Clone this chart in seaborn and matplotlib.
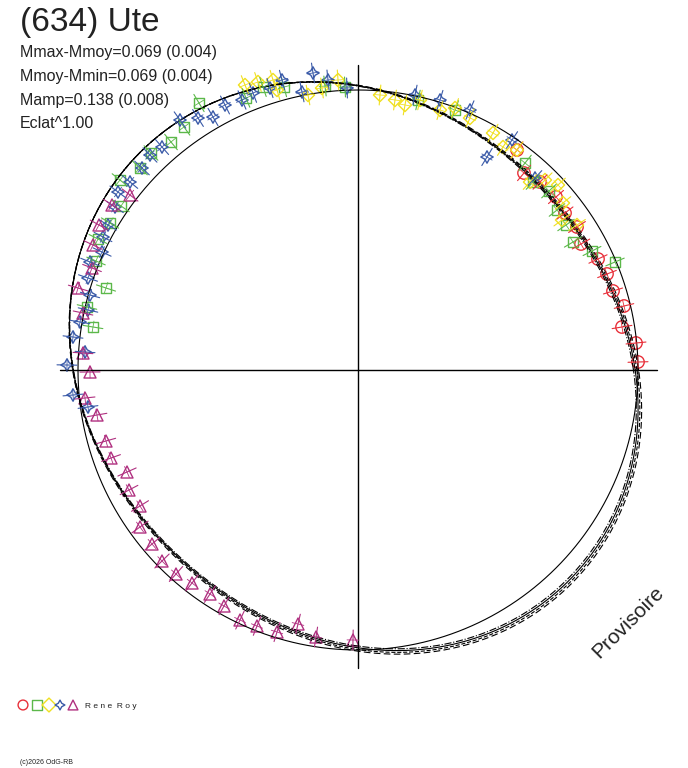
import numpy as np
import pandas as pd
import matplotlib
matplotlib.use("Agg")
import matplotlib.pyplot as plt
import seaborn as sns

# Points in the plot's own (x, y) frame, centre of the polar diagram at (0, 0)
red_x = [159, 166, 182, 198, 207, 219, 223, 240, 249, 255, 266, 264, 278, 280]
red_y = [220, 197, 188, 173, 157, 143, 126, 111, 96, 79, 64, 43, 27, 8]

green_x = [167, 175, 191, 199, 208, 215, 234, 257, -159, -174, -187, -207, -218, -238,
           -112, -95, -74, -33, -13, -237, -248, -260, -262, -252, -271, -265, 60, 97]
green_y = [207, 188, 179, 160, 145, 128, 119, 108, 267, 243, 228, 217, 202, 190,
           272, 283, 283, 284, 283, 164, 147, 131, 109, 82, 63, 43, 270, 260]

yellow_x = [-113, -100, -81, -50, -36, -20, -85, 22, 37, 47, 62, 82, 97, 112, 135, 145,
            159, 172, 187, 200, 205, 204, 219]
yellow_y = [285, 288, 280, 275, 282, 290, 290, 275, 270, 265, 270, 260, 262, 252, 237, 223,
            220, 188, 190, 185, 167, 150, 145]

blue_x = [-76, -45, -30, -56, -11, -88, -105, -116, -133, -145, -160, -178, -196, -208, -216,
          -228, -240, -243, -250, -255, -256, -268, -270, -268, -270, -278, -285, -273, -291,
          -285, -270, 129, 154, 177, 57, 82, 112]
blue_y = [290, 297, 290, 278, 282, 282, 277, 270, 265, 253, 252, 250, 223, 215, 202,
          188, 178, 163, 145, 133, 118, 108, 92, 75, 60, 48, 33, 18, 5,
          -25, -37, 213, 230, 192, 275, 270, 260]

mag_x = [-228, -246, -259, -265, -266, -280, -275, -275, -268, -273, -261, -252, -247, -231,
         -229, -218, -218, -206, -196, -182, -166, -148, -134, -118, -101, -81, -60, -42, -5]
mag_y = [175, 165, 145, 125, 102, 82, 57, 17, -2, -28, -45, -71, -88, -102,
         -120, -136, -157, -174, -191, -204, -213, -224, -236, -250, -256, -262, -254, -267, -270]

# Fourier model of the fitted curve (radius vs phase angle)
fit_r0 = 281
fit_sin2 = -22
fit_h1_amp = 5
fit_h1_phase = 140
circle_r = 280
fit_offsets = [0, 2, -2, 4]
fit_styles = ["-", "--", "-.", (0, (6, 3))]

series = [
    ("red", red_x, red_y, "o", "#e8303a", 80),
    ("green", green_x, green_y, "s", "#5cb84a", 55),
    ("yellow", yellow_x, yellow_y, "D", "#f0e020", 45),
    ("blue", blue_x, blue_y, (4, 1, 0), "#3a5aa8", 80),
    ("magenta", mag_x, mag_y, "^", "#b03080", 75),
]

sns.set_style("white")
plt.rcParams["font.family"] = ["Liberation Sans", "DejaVu Sans"]

fig = plt.figure(figsize=(6.88, 7.68), dpi=100)
ax = fig.add_axes([0, 0, 1, 1])
ax.set_xlim(-358, 330)
ax.set_ylim(-398, 370)
ax.axis("off")

# axes cross
ax.plot([-298, 299], [0, 0], color="black", lw=1)
ax.plot([0, 0], [305, -298], color="black", lw=1)

# reference circle and fits
th = np.linspace(0, 2 * np.pi, 721)
ax.plot(circle_r * np.cos(th), circle_r * np.sin(th), color="black", lw=0.8)
base = fit_r0 + fit_sin2 * np.sin(2 * th) + fit_h1_amp * np.cos(th - np.radians(fit_h1_phase))
for off, ls in zip(fit_offsets, fit_styles):
    r = base + off * (0.5 + 0.5 * np.cos(th + np.pi / 4))
    ax.plot(r * np.cos(th), r * np.sin(th), color="black", lw=0.8, ls=ls)

# data points with error ticks
for name, xs, ys, m, c, s in series:
    xs = np.array(xs, float)
    ys = np.array(ys, float)
    rr = np.hypot(xs, ys)
    ux, uy = xs / rr, ys / rr
    for x, y, a, b in zip(xs, ys, ux, uy):
        ax.plot([x - 10 * a, x + 10 * a], [y - 10 * b, y + 10 * b], color=c, lw=0.8)
        ax.plot([x - 6 * b, x + 6 * b], [y + 6 * a, y - 6 * a], color=c, lw=0.6)
    df = pd.DataFrame({"x": xs, "y": ys})
    sns.scatterplot(data=df, x="x", y="y", ax=ax, marker=m, s=s,
                    facecolors="none", edgecolors=c, linewidth=1, legend=False)

ax.set_xlim(-358, 330)
ax.set_ylim(-398, 370)

# texts
fig.text(20 / 688, 1 - 23 / 768, "(634) Ute", fontsize=24, va="center", color="#222222")
info = ["Mmax-Mmoy=0.069 (0.004)", "Mmoy-Mmin=0.069 (0.004)", "Mamp=0.138 (0.008)", "Eclat^1.00"]
for i, t in enumerate(info):
    fig.text(20 / 688, 1 - (52 + i * 24) / 768, t, fontsize=11.5, va="center", color="#222222")
fig.text(628 / 688, 1 - 622 / 768, "Provisoire", fontsize=15, rotation=45,
         ha="center", va="center", color="#222222")

# legend row
lx = [23, 37, 49, 60, 73]
for (name, xs, ys, m, c, s), px in zip(series, lx):
    ax.scatter(px - 358, 370 - 705, marker=m, s=50, facecolors="none", edgecolors=c, linewidth=1)
fig.text(85 / 688, 1 - 706 / 768, "R e n e  R o y", fontsize=6, va="center", color="#222222")
fig.text(20 / 688, 1 - 763 / 768, "(c)2026 OdG-RB", fontsize=5, va="center", color="#222222")

fig.savefig("out.png", dpi=100)
